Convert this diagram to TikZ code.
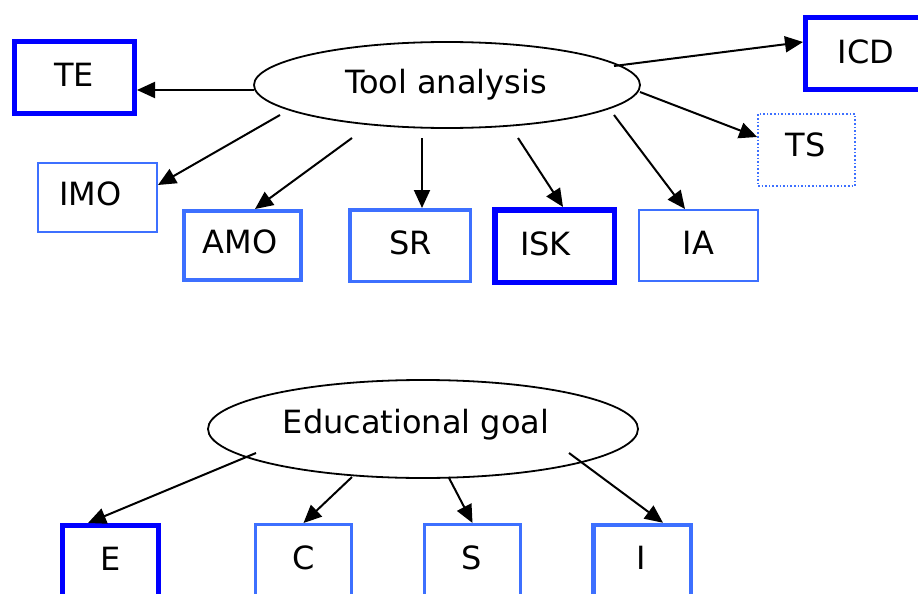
\documentclass[tikz,border=0pt]{standalone}
\usepackage{fontspec}
\setmainfont{DejaVu Sans}
\usetikzlibrary{shapes.geometric,arrows.meta}
\definecolor{db}{RGB}{0,0,255}
\definecolor{lb}{RGB}{61,112,255}
\begin{document}
\begin{tikzpicture}[x=1pt,y=-1pt,
  font=\fontsize{32}{38}\selectfont,
  box/.style={draw, rectangle, inner sep=0pt},
  ell/.style={draw, ellipse, line width=1.8pt, inner sep=0pt},
  arr/.style={-{Triangle[length=18pt,width=16pt]}, line width=2pt, black},
  lbl/.style={inner sep=0pt}]
\useasboundingbox (0,0) rectangle (918,594);
\clip (0,0) rectangle (918,594);
% ellipses
\node[ell, minimum width=386pt, minimum height=86pt] (ta) at (447,85) {};
\node[lbl] (ta-t) at (446,85) {Tool analysis};
\node[ell, minimum width=430pt, minimum height=98pt] (eg) at (423,429) {};
\node[lbl] (eg-t) at (416,425) {Educational goal};
% top boxes
\node[box, line width=5pt, draw=db, minimum width=120pt, minimum height=72pt] (te) at (74.5,77.5) {};
\node[box, line width=5pt, draw=db, minimum width=120pt, minimum height=72pt] (icd) at (865.5,53.5) {};
\node[box, line width=1.6pt, draw=lb, dotted, minimum width=97pt, minimum height=72pt] (ts) at (806.5,150) {};
\node[box, line width=2pt, draw=lb, minimum width=119pt, minimum height=69pt] (imo) at (97.5,197.5) {};
\node[box, line width=4pt, draw=lb, minimum width=117pt, minimum height=69pt] (amo) at (242.5,245.5) {};
\node[box, line width=3.5pt, draw=lb, minimum width=120.5pt, minimum height=71.5pt] (sr) at (410,245.5) {};
\node[box, line width=5.5pt, draw=db, minimum width=119.5pt, minimum height=72.5pt] (isk) at (554.5,246) {};
\node[box, line width=2pt, draw=lb, minimum width=119pt, minimum height=71pt] (ia) at (698.5,245.5) {};
% bottom boxes
\node[box, line width=5pt, draw=db, minimum width=96pt, minimum height=80pt] (eb) at (110.5,565.5) {};
\node[box, line width=3pt, draw=lb, minimum width=96pt, minimum height=80pt] (cb) at (303.5,564.5) {};
\node[box, line width=3pt, draw=lb, minimum width=96pt, minimum height=80pt] (sb) at (472.5,564.5) {};
\node[box, line width=4.5pt, draw=lb, minimum width=97.5pt, minimum height=80pt] (ib) at (642,565) {};
% texts
\node[lbl] (te-t) at (74,75) {TE};
\node[lbl] (icd-t) at (866,51.5) {ICD};
\node[lbl] (ts-t) at (805.5,145) {TS};
\node[lbl] (imo-t) at (90.5,193.5) {IMO};
\node[lbl] (amo-t) at (240,241.5) {AMO};
\node[lbl] (sr-t) at (410.5,243) {SR};
\node[lbl] (isk-t) at (545.5,243.5) {ISK};
\node[lbl] (ia-t) at (698.5,242.5) {IA};
\node[lbl] (eb-t) at (110.6,558.5) {E};
\node[lbl] (cb-t) at (303.7,558) {C};
\node[lbl] (sb-t) at (471.6,558) {S};
\node[lbl] (ib-t) at (641.6,558) {I};
% connector start points
\coordinate (s1) at (254,90);
\coordinate (s2) at (614,66);
\coordinate (s3) at (640,92);
\coordinate (s4) at (280,115);
\coordinate (s5) at (352,138);
\coordinate (s6) at (422,138);
\coordinate (s7) at (518,138);
\coordinate (s8) at (614,115);
\coordinate (s9) at (256,453);
\coordinate (s10) at (352,477);
\coordinate (s11) at (448.5,477);
\coordinate (s12) at (569,453);
% connectors
\draw[arr] (s1) -- ([yshift=-12.5pt]te.east);
\draw[arr] (s2) -- ([yshift=11.5pt]icd.west);
\draw[arr] (s3) -- ([yshift=13pt]ts.west);
\draw[arr] (s4) -- ([yshift=12.5pt]imo.east);
\draw[arr] (s5) -- ([xshift=12.5pt]amo.north);
\draw[arr] (s6) -- ([xshift=12pt]sr.north);
\draw[arr] (s7) -- ([xshift=8.5pt]isk.north);
\draw[arr] (s8) -- ([xshift=-13.5pt]ia.north);
\draw[arr] (s9) -- ([xshift=-22.5pt]eb.north);
\draw[arr] (s10) -- (cb.north);
\draw[arr] (s11) -- (sb.north);
\draw[arr] (s12) -- ([xshift=21pt]ib.north);
\end{tikzpicture}
\end{document}
